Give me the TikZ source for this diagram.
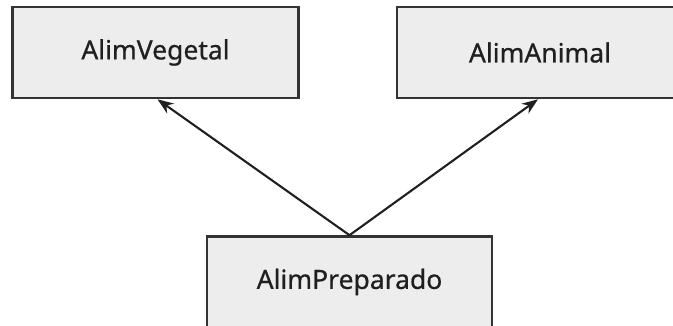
\documentclass[tikz,border=0pt]{standalone}
\usepackage{fontspec}
\setmainfont{Noto Sans}
\newfontfamily\labelfont{Noto Sans}[FakeBold=0.6]
\usetikzlibrary{arrows.meta}
\tikzset{
  classbox/.style={draw=black!80, fill=black!7, line width=2.6pt, inner sep=0pt,
    minimum height=91pt, font=\labelfont\fontsize{26.5}{30}\selectfont, text=black!88},
  inherit/.style={draw=black!88, line width=2.1pt, -{Stealth[length=16pt,width=12pt]}}
}
\begin{document}
\begin{tikzpicture}[x=1pt,y=-1pt]
\useasboundingbox (0,0) rectangle (673,326);
\node[classbox, minimum width=286pt] (veg) at (155.5,52.5) {AlimVegetal};
\node[classbox, minimum width=286pt] (ani) at (540,52.5) {AlimAnimal};
\node[classbox, minimum width=285pt] (prep) at (349.5,282) {AlimPreparado};
\draw[inherit] (prep.north) -- ([xshift=2pt]veg.south);
\draw[inherit] (prep.north) -- ([xshift=-2pt]ani.south);
\end{tikzpicture}
\end{document}
